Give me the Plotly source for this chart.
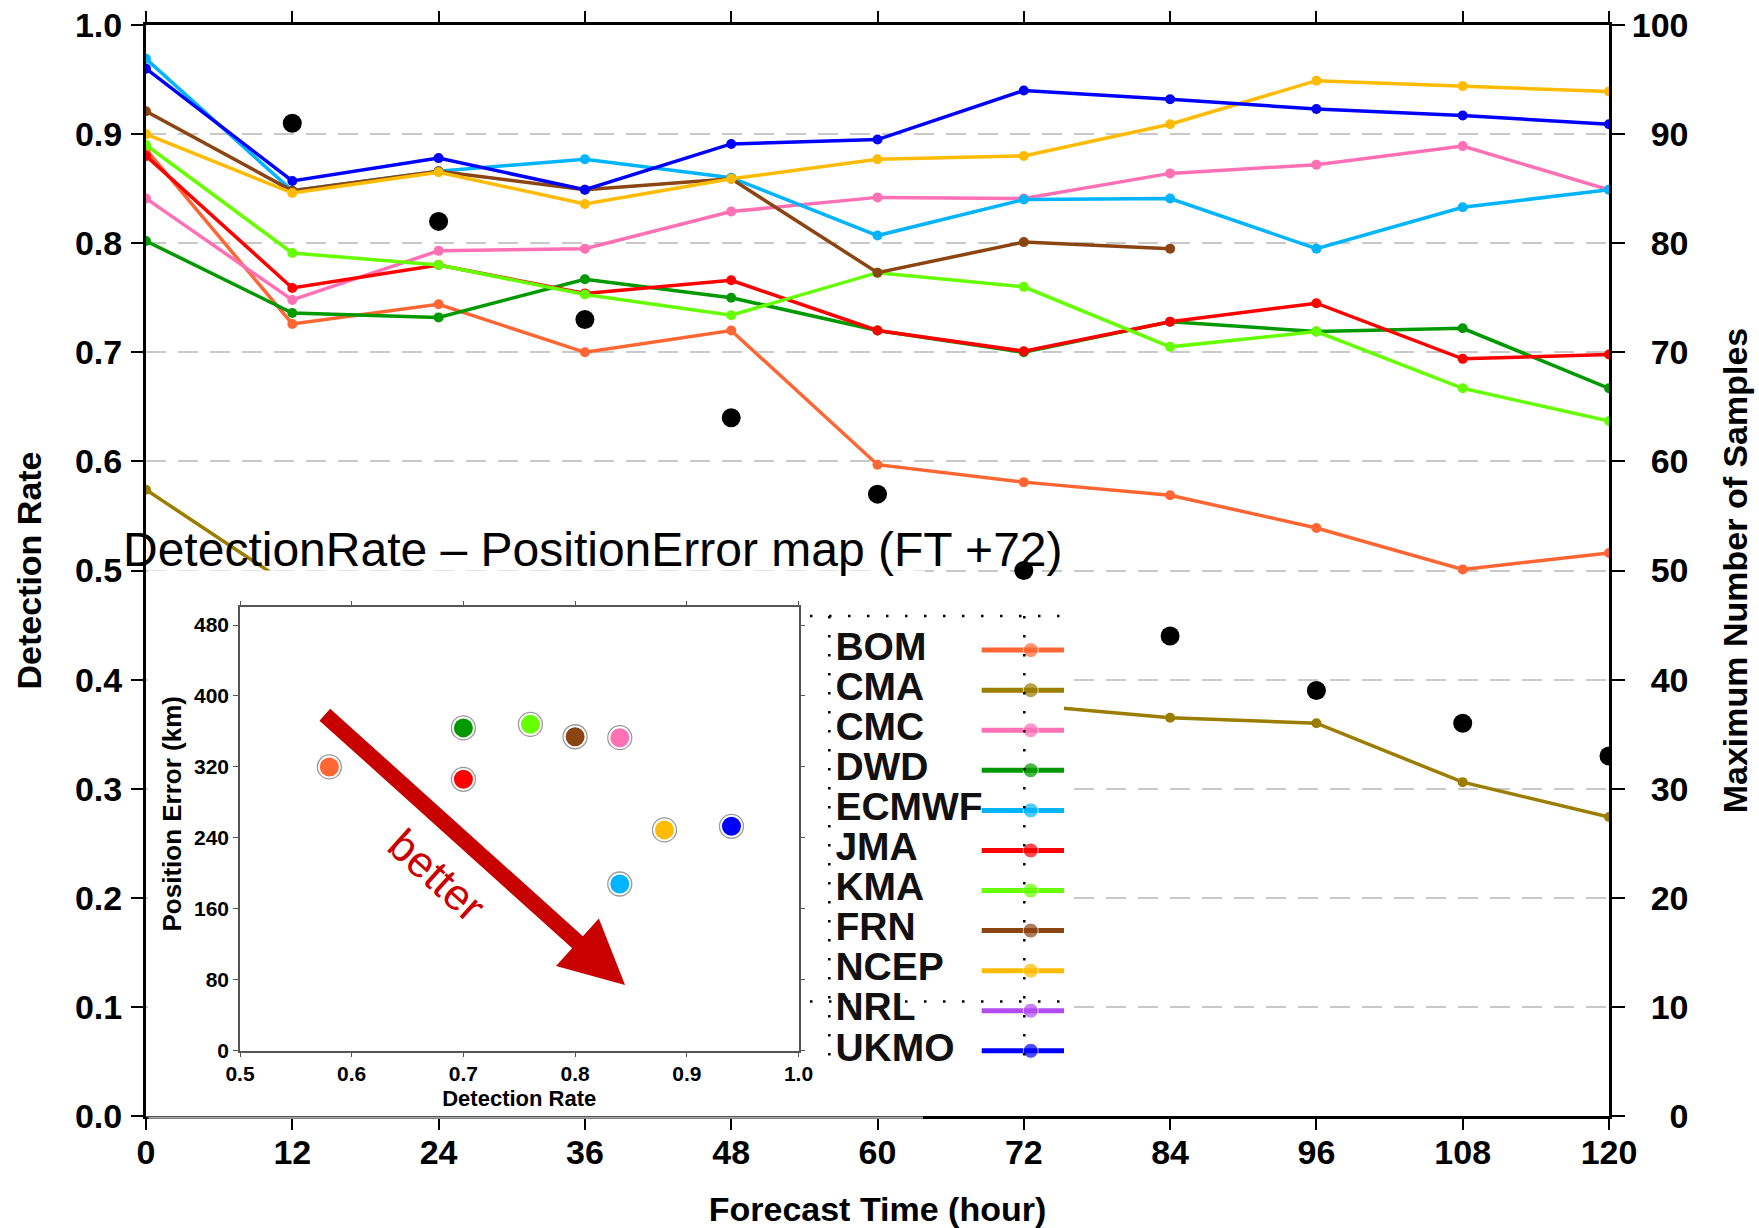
import plotly.graph_objects as go

# ---------------- data ----------------
FT = [0, 12, 24, 36, 48, 60, 72, 84, 96, 108, 120]
MODELS = ["BOM", "CMA", "CMC", "DWD", "ECMWF", "JMA", "KMA", "FRN", "NCEP", "NRL", "UKMO"]
COLORS = ["#ff6633", "#9b7d00", "#ff70b4", "#009a00", "#00b4ff", "#ff0000",
          "#66ff00", "#8b4513", "#ffbb00", "#b04cf0", "#0000ff"]

BOM = [0.886, 0.726, 0.744, 0.700, 0.720, 0.597, 0.581, 0.569, 0.539, 0.501, 0.516]
CMA = [0.574, 0.485, 0.450, 0.420, 0.400, 0.380, 0.377, 0.365, 0.360, 0.306, 0.274]
CMC = [0.841, 0.748, 0.793, 0.795, 0.829, 0.842, 0.841, 0.864, 0.872, 0.889, 0.849]
DWD = [0.802, 0.736, 0.732, 0.767, 0.750, 0.720, 0.700, 0.728, 0.719, 0.722, 0.667]
ECMWF = [0.969, 0.848, 0.866, 0.877, 0.860, 0.807, 0.840, 0.841, 0.795, 0.833, 0.849]
JMA = [0.880, 0.759, 0.780, 0.754, 0.766, 0.720, 0.701, 0.728, 0.745, 0.694, 0.698]
KMA = [0.890, 0.791, 0.780, 0.753, 0.734, 0.773, 0.760, 0.705, 0.719, 0.667, 0.637]
FRN = [0.921, 0.848, 0.866, 0.849, 0.859, 0.773, 0.801, 0.795, None, None, None]
NCEP = [0.900, 0.846, 0.865, 0.836, 0.859, 0.877, 0.880, 0.909, 0.949, 0.944, 0.939]
NRL = [None] * 11
UKMO = [0.960, 0.857, 0.878, 0.849, 0.891, 0.895, 0.940, 0.932, 0.923, 0.917, 0.909]
SERIES = [BOM, CMA, CMC, DWD, ECMWF, JMA, KMA, FRN, NCEP, NRL, UKMO]

SAMPLES = [None, 91, 82, 73, 64, 57, 50, 44, 39, 36, 33]

# Inset: DetectionRate - PositionError at FT+72
INSET_MODELS = ["BOM", "DWD", "KMA", "FRN", "CMC", "JMA", "NCEP", "UKMO", "ECMWF"]
INSET_DR = [0.58, 0.70, 0.76, 0.80, 0.84, 0.70, 0.88, 0.94, 0.84]
INSET_PE = [320, 364, 368, 354, 353, 306, 249, 253, 188]

Y_TICKS = [i / 10 for i in range(11)]
Y2_TICKS = list(range(0, 101, 10))
INSET_X_TICKS = [0.5, 0.6, 0.7, 0.8, 0.9, 1.0]
INSET_Y_TICKS = [0, 80, 160, 240, 320, 400, 480]

# ---------------- geometry ----------------
W, H = 1759, 1228
ML, MR, MT, MB = 146, 150, 25, 112
PW, PH = W - ML - MR, H - MT - MB


def px_x(px):
    return (px - ML) / PW


def px_y(py):
    return (H - MB - py) / PH


FONT = "Liberation Sans, Arial, Helvetica, sans-serif"
COLOR_OF = dict(zip(MODELS, COLORS))

fig = go.Figure()

# main lines
for name, vals, col in zip(MODELS, SERIES, COLORS):
    fig.add_trace(go.Scatter(
        x=FT, y=vals, mode="lines+markers", name=name,
        line=dict(color=col, width=3.5), marker=dict(color=col, size=10),
        showlegend=False, xaxis="x", yaxis="y"))

# black dots: max number of samples
fig.add_trace(go.Scatter(
    x=FT, y=SAMPLES, mode="markers", name="Samples",
    marker=dict(color="black", size=19), showlegend=False,
    xaxis="x", yaxis="y2"))

# cover subplots (empty) – the pasted inset image hides what is below it
fig.add_trace(go.Scatter(x=[], y=[], xaxis="x3", yaxis="y3", showlegend=False))
fig.add_trace(go.Scatter(x=[], y=[], xaxis="x4", yaxis="y4", showlegend=False))

# inset scatter
fig.add_trace(go.Scatter(
    x=INSET_DR, y=INSET_PE, mode="markers", xaxis="x5", yaxis="y5",
    marker=dict(size=24, color="white", line=dict(color="#9a9a9a", width=1.3)),
    showlegend=False, hoverinfo="skip"))
fig.add_trace(go.Scatter(
    x=INSET_DR, y=INSET_PE, mode="markers", xaxis="x5", yaxis="y5",
    text=INSET_MODELS,
    marker=dict(size=19, color=[COLOR_OF[m] for m in INSET_MODELS]),
    showlegend=False))

# custom legend (text left, symbol right)
LEG_LINE_X = [0.676, 0.869, 1.0]
for i, (name, col) in enumerate(zip(MODELS, COLORS)):
    fig.add_trace(go.Scatter(
        x=LEG_LINE_X, y=[i] * 3, mode="lines+markers", xaxis="x6", yaxis="y6",
        line=dict(color=col, width=5), marker=dict(color=col, size=[0, 15, 0]),
        showlegend=False, hoverinfo="skip", cliponaxis=False))
fig.add_trace(go.Scatter(
    x=[0.10] * len(MODELS), y=list(range(len(MODELS))), text=MODELS,
    mode="text", textposition="middle right", xaxis="x6", yaxis="y6",
    textfont=dict(family=FONT, size=39, color="#111111", weight="bold"),
    showlegend=False, hoverinfo="skip", cliponaxis=False))

bold = dict(family=FONT, size=34, color="black", weight="bold")
hidden = dict(showgrid=False, showticklabels=False, zeroline=False,
              showline=False, ticks="", automargin=False)

fig.update_layout(
    width=W, height=H, autosize=False,
    margin=dict(l=ML, r=MR, t=MT, b=MB, pad=0, autoexpand=False),
    paper_bgcolor="white", plot_bgcolor="white",
    showlegend=False,
    font=dict(family=FONT, color="black"),
    xaxis=dict(
        domain=[0, 1], range=[0, 120], tickvals=FT, ticks="outside",
        ticklen=11, tickwidth=2, tickcolor="black",
        showline=True, linecolor="black", linewidth=3, mirror="ticks",
        showgrid=False, zeroline=False, tickfont=bold, automargin=False,
        ticklabelstandoff=-7,
        title=dict(text="Forecast Time (hour)", font=bold, standoff=29)),
    yaxis=dict(
        domain=[0, 1], range=[0, 1], tickvals=Y_TICKS, tickformat=".1f",
        ticks="outside", ticklen=12, tickwidth=2, tickcolor="black",
        showline=True, linecolor="black", linewidth=3,
        showgrid=True, gridcolor="#c8c8c8", gridwidth=2, griddash="20px,12px",
        zeroline=False, tickfont=bold, ticklabelstandoff=2, automargin=False,
        title=dict(text="Detection Rate", font=bold, standoff=24)),
    yaxis2=dict(
        overlaying="y", side="right", anchor="x", range=[0, 100],
        tickvals=Y2_TICKS,
        ticktext=[f"{v:>3}".replace(" ", "\u2007") for v in Y2_TICKS],
        ticks="outside", ticklen=13, tickwidth=2, tickcolor="black",
        showline=True, linecolor="black", linewidth=3,
        showgrid=False, zeroline=False, tickfont=bold, automargin=False,
        title=dict(text="Maximum Number of Samples", font=bold, standoff=36)),
    xaxis3=dict(domain=[px_x(148), px_x(925)], anchor="y3", range=[0, 1], **hidden),
    yaxis3=dict(domain=[0, px_y(570.5)], anchor="x3", range=[0, 1], **hidden),
    xaxis4=dict(domain=[px_x(925), px_x(1064)], anchor="y4", range=[0, 1], **hidden),
    yaxis4=dict(domain=[0, px_y(590)], anchor="x4", range=[0, 1], **hidden),
    xaxis5=dict(
        domain=[px_x(240), px_x(798.5)], anchor="y5", range=[0.5, 1.0],
        tickvals=INSET_X_TICKS, ticktext=[f"{v:.1f}" for v in INSET_X_TICKS],
        ticks="outside", ticklen=5, tickwidth=1.2, tickcolor="#555555",
        showline=True, linecolor="#555555", linewidth=1.5, mirror="ticks",
        showgrid=False, zeroline=False, automargin=False,
        ticklabelstandoff=-2,
        tickfont=dict(family=FONT, size=21, color="black", weight="bold"),
        title=dict(text="Detection Rate", standoff=7,
                   font=dict(family=FONT, size=22, color="black", weight="bold"))),
    yaxis5=dict(
        domain=[px_y(1050.7), px_y(607.3)], anchor="x5", range=[0, 500],
        tickvals=INSET_Y_TICKS,
        ticks="outside", ticklen=5, tickwidth=1.2, tickcolor="#555555",
        showline=True, linecolor="#555555", linewidth=1.5, mirror="ticks",
        showgrid=False, zeroline=False, automargin=False,
        tickfont=dict(family=FONT, size=21, color="black", weight="bold")),
    xaxis6=dict(domain=[px_x(810), px_x(1064)], anchor="y6", range=[0, 1], **hidden),
    yaxis6=dict(domain=[px_y(1062), px_y(616)], anchor="x6",
                range=[(1062 - 650.1) / 40.07, (616 - 650.1) / 40.07], **hidden),
)

annotations = [
    dict(text="DetectionRate \u2013 PositionError map (FT +72)",
         xref="paper", yref="paper", x=px_x(121), y=px_y(549),
         xanchor="left", yanchor="middle", showarrow=False,
         font=dict(family=FONT, size=48, color="black")),
    dict(text="Position Error (km)", xref="paper", yref="paper",
         x=px_x(171.5), y=px_y(814), textangle=-90, showarrow=False,
         xanchor="center", yanchor="middle",
         font=dict(family=FONT, size=26, color="black", weight="bold")),
    dict(text="", xref="x5", yref="y5", x=0.8447, y=74.1,
         axref="x5", ayref="y5", ax=0.5746, ay=380.4,
         showarrow=True, arrowhead=2, arrowsize=0.8, arrowwidth=16,
         arrowcolor="#c80000", standoff=0),
    dict(text="better", xref="x5", yref="y5", x=0.6768, y=198,
         showarrow=False, textangle=42, xanchor="center", yanchor="middle",
         font=dict(family=FONT, size=44, color="#cc0000")),
]
fig.update_layout(annotations=annotations)

dot = dict(color="black", width=2.5, dash="2.5px,16.5px")
shapes = [
    # inset image covers the thick bottom axis: thin gray line instead
    dict(type="line", xref="paper", yref="paper", x0=px_x(148.5), x1=px_x(923),
         y0=0, y1=0, line=dict(color="white", width=5), layer="above"),
    dict(type="line", xref="paper", yref="paper", x0=px_x(146), x1=px_x(923),
         y0=px_y(1116.7), y1=px_y(1116.7), line=dict(color="#555555", width=1.5),
         layer="above"),
    # dotted table lines of the pasted legend
    dict(type="line", xref="paper", yref="paper", x0=px_x(810), x1=px_x(1064),
         y0=px_y(616), y1=px_y(616), line=dot, layer="above"),
    dict(type="line", xref="paper", yref="paper", x0=px_x(810), x1=px_x(1064),
         y0=px_y(1001.5), y1=px_y(1001.5), line=dot, layer="above"),
    dict(type="line", xref="paper", yref="paper", x0=px_x(829.3), x1=px_x(829.3),
         y0=px_y(616), y1=px_y(1062), line=dot, layer="above"),
    dict(type="line", xref="paper", yref="paper", x0=px_x(1024.3), x1=px_x(1024.3),
         y0=px_y(616), y1=px_y(1062), line=dot, layer="above"),
]
fig.update_layout(shapes=shapes)

fig.write_html("out.html")
